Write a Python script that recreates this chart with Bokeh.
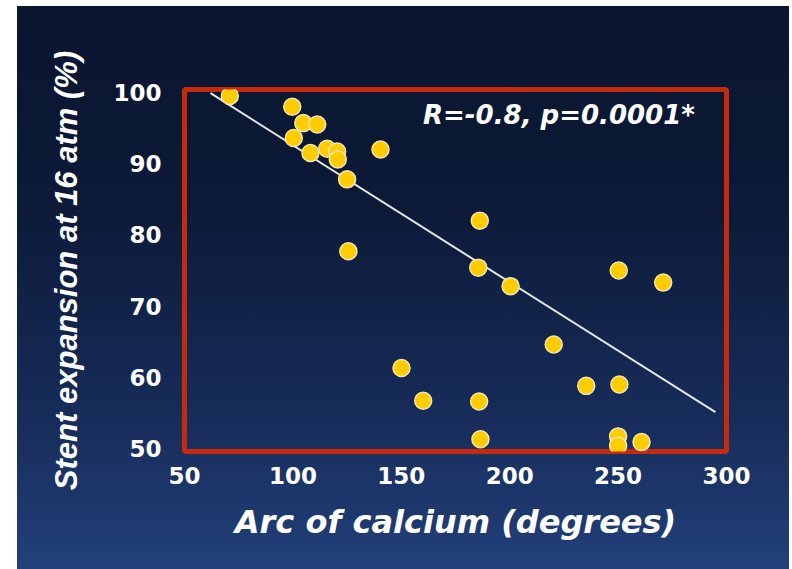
from bokeh.plotting import figure
from bokeh.models import FixedTicker, Label, ColumnDataSource
from bokeh.embed import file_html
from bokeh.resources import INLINE

# Data
arc_calcium = [70.9, 99.7, 104.8, 111.2, 100.4, 108.1, 115.8, 120.4, 120.7, 125.0,
               140.4, 125.6, 186.2, 185.5, 200.4, 250.3, 270.8, 220.3, 150.1, 160.1,
               185.9, 235.3, 250.6, 186.5, 250.0, 250.0, 260.8]
stent_expansion = [99.5, 98.0, 95.7, 95.5, 93.6, 91.5, 92.1, 91.7, 90.6, 87.8,
                   92.0, 77.7, 82.0, 75.4, 72.8, 75.0, 73.3, 64.6, 61.3, 56.7,
                   56.6, 58.8, 59.0, 51.3, 51.7, 50.4, 50.9]
fit_x = [62.0, 294.9]
fit_y = [99.9, 55.1]
x_ticks = [50, 100, 150, 200, 250, 300]
y_ticks = [50, 60, 70, 80, 90, 100]
stat_text = "R=-0.8, p=0.0001*"
x_title = "Arc of calcium (degrees)"
y_title = "Stent expansion at 16 atm (%)"

p = figure(
    width=772, height=563,
    x_range=(50, 300), y_range=(49.58, 100.42),
    output_backend="svg", toolbar_location=None,
    min_border_left=167, min_border_right=63, min_border_top=83, min_border_bottom=118,
    background_fill_alpha=0, border_fill_alpha=0,
    styles={"background": "linear-gradient(to bottom, #0a1530 0%, #0c1a37 35%, #182d5c 75%, #22407a 100%)",
            "margin-left": "17px", "margin-top": "6px"},
)
p.frame_width = 542
p.frame_height = 362

p.outline_line_color = "#C62A0C"
p.outline_line_width = 5
p.xgrid.visible = False
p.ygrid.visible = False

for ax in (p.xaxis, p.yaxis):
    ax.axis_line_color = None
    ax.major_tick_line_color = None
    ax.minor_tick_line_color = None
    ax.major_label_text_color = "white"
    ax.major_label_text_font = "DejaVu Sans"
    ax.major_label_text_font_style = "bold"
    ax.major_label_text_font_size = "23px"
    ax.axis_label_text_color = "white"
    ax.axis_label_text_font_style = "bold italic"

p.xaxis.ticker = FixedTicker(ticks=x_ticks)
p.yaxis.ticker = FixedTicker(ticks=y_ticks)
p.xaxis.major_label_standoff = 9
p.yaxis.major_label_standoff = 17

p.xaxis.axis_label = x_title
p.xaxis.axis_label_text_font = "DejaVu Sans"
p.xaxis.axis_label_text_font_size = "32px"
p.xaxis.axis_label_standoff = 16

p.yaxis.axis_label = y_title
p.yaxis.axis_label_text_font = "Liberation Sans"
p.yaxis.axis_label_text_font_size = "31px"
p.yaxis.axis_label_standoff = 26

p.line(fit_x, fit_y, line_color="#E6E6E6", line_width=2)

src = ColumnDataSource(dict(x=arc_calcium, y=stent_expansion))
p.scatter("x", "y", source=src, size=17, fill_color="#FFCC00",
          line_color="#F3E6B5", line_width=1.5)

p.add_layout(Label(x=160, y=96.9, text=stat_text, text_color="white",
                   text_font="DejaVu Sans", text_font_style="bold italic",
                   text_font_size="26px", text_baseline="middle"))

open("out.html", "w").write(file_html(p, INLINE))
